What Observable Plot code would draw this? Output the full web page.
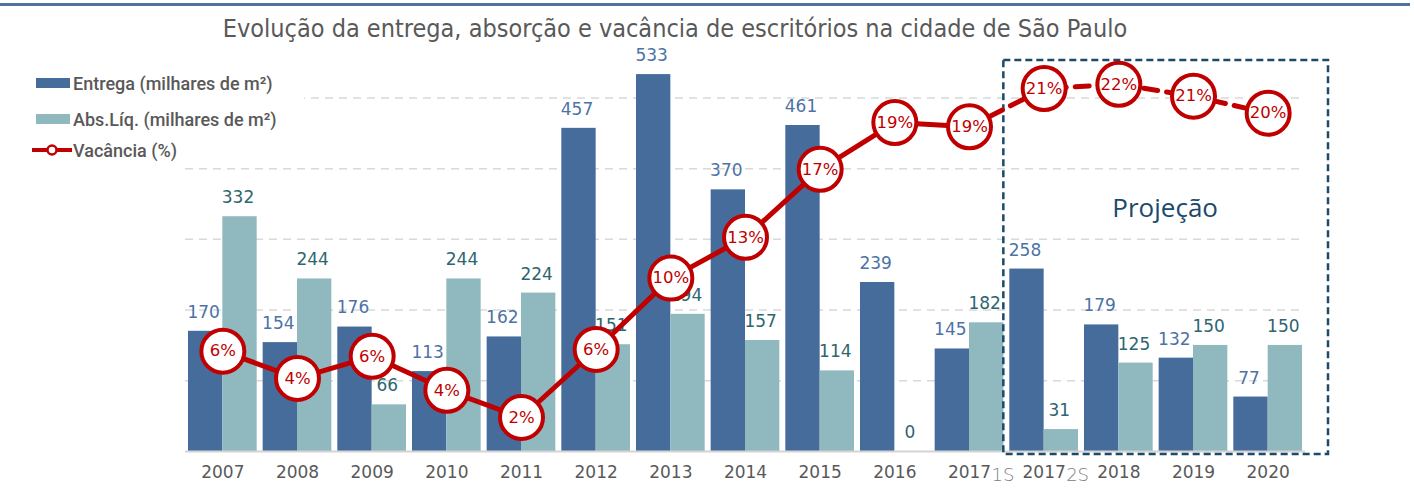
<!DOCTYPE html>
<html>
<head>
<meta charset="utf-8">
<script src="https://cdn.jsdelivr.net/npm/d3@7"></script>
<script src="https://cdn.jsdelivr.net/npm/@observablehq/plot@0.6"></script>
<style>
  html, body { margin: 0; padding: 0; background: #fff; }
  #wrap { position: relative; width: 1414px; height: 493px; overflow: hidden; }
  #wrap > svg { position: absolute; left: 0; top: 0; }
  #topline { position: absolute; left: 0; top: 3px; width: 1410px; height: 3px; background: #4f72a3; z-index: 3; }
  #title { position: absolute; left: 0; width: 1350px; top: 14px; text-align: center; font-family: "DejaVu Sans Condensed", "DejaVu Sans", sans-serif; font-stretch: condensed; font-size: 25px; color: #595959; z-index: 3; }
  #legend { position: absolute; left: 28px; top: 66px; width: 276px; height: 98px; background: #fff; z-index: 3; font-family: Roboto, sans-serif; font-weight: 500; font-size: 18px; color: #595959; }
  .item { position: absolute; left: 0; height: 22px; display: flex; align-items: center; white-space: nowrap; }
  .sw { width: 34px; height: 10px; margin-left: 8px; margin-right: 3px; }
</style>
</head>
<body>
<div id="wrap">
  <div id="topline"></div>
  <div id="title">Evolução da entrega, absorção e vacância de escritórios na cidade de São Paulo</div>
  <div id="legend"></div>
</div>
<script>
// ---- data ----
const categories = ["2007","2008","2009","2010","2011","2012","2013","2014","2015","2016","2017 1S","2017 2S","2018","2019","2020"];
const entrega = [170,154,176,113,162,457,533,370,461,239,145,258,179,132,77];
const absLiq  = [332,244,66,244,224,151,194,157,114,0,182,31,125,150,150];
const vacancia = [5.9,4.3,5.6,3.6,2.0,6.0,10.2,12.6,16.6,19.35,19.1,21.35,21.6,20.9,19.9];
const seriesNames = ["Entrega (milhares de m²)", "Abs.Líq. (milhares de m²)", "Vacância (%)"];
const gridValues = [100,200,300,400,500];
const projectionLabel = "Projeção";
const projectionStart = "2017 2S";

// ---- styles ----
const C_ENT = "#466c9c", C_ABS = "#8fb9be", C_RED = "#c00000";
const C_ENT_TXT = "#4d72a6", C_ABS_TXT = "#2e6570";
const HALF = 0.46;          // half of group width, in category steps
const VAC_K = 24.04;        // vacancy % -> bar-axis units

const rows = categories.map((c, i) => {
  const parts = c.split(" ");
  return {i, cat: c, base: parts[0], suffix: parts[1] || "", entrega: entrega[i], abs: absLiq[i], vac: vacancia[i]};
});
const pStart = categories.indexOf(projectionStart);
const last = categories.length - 1;

const chart = Plot.plot({
  width: 1414, height: 493,
  marginLeft: 185, marginRight: 109, marginTop: 55, marginBottom: 42,
  x: {type: "linear", domain: [-0.5, last + 0.5], axis: null},
  y: {domain: [0, 560], axis: null},
  style: {fontFamily: "DejaVu Sans, sans-serif", background: "transparent", overflow: "visible"},
  marks: [
    Plot.ruleY(gridValues, {stroke: "#d9d9d9", strokeWidth: 1.5, strokeDasharray: "8,6"}),
    Plot.rectY(rows, {x1: d => d.i - HALF, x2: d => d.i, y: "entrega", fill: C_ENT}),
    Plot.rectY(rows, {x1: d => d.i, x2: d => d.i + HALF, y: "abs", fill: C_ABS}),
    Plot.text(rows, {x: d => d.i - HALF / 2, y: "entrega", dy: -19, dx: -2, text: d => String(d.entrega), fill: C_ENT_TXT, fontSize: 17}),
    Plot.text(rows, {x: d => d.i + HALF / 2, y: "abs", dy: -19, dx: -2, text: d => String(d.abs), fill: C_ABS_TXT, fontSize: 17}),
    Plot.ruleY([0], {stroke: "#d4d4d4", strokeWidth: 2}),
    Plot.text(rows, {x: "i", y: 0, dy: 21, text: "base", fill: "#595959", fontSize: 17}),
    Plot.text(rows.filter(d => d.suffix), {x: "i", y: 0, dy: 24, dx: 22, textAnchor: "start", text: "suffix", fill: "#808080", fontSize: 18, fontWeight: 200}),
    Plot.rect([{x1: pStart - 0.5, x2: last + 0.5, y1: 0, y2: 560}], {x1: "x1", x2: "x2", y1: "y1", y2: "y2", fill: "none", stroke: "#1c4a6a", strokeWidth: 2.5, strokeDasharray: "7,4", insetLeft: -3, insetRight: -23, insetTop: 5, insetBottom: -3}),
    Plot.text([projectionLabel], {x: (pStart - 0.5 + last + 0.5) / 2, y: 344, dx: 9, text: d => d, fill: "#1b4a6b", fontSize: 26, fontWeight: 500, fontFamily: "Open Sans, sans-serif"}),
    Plot.line(rows.slice(0, pStart), {x: "i", y: d => d.vac * VAC_K, stroke: C_RED, strokeWidth: 5}),
    Plot.line(rows.slice(pStart - 1), {x: "i", y: d => d.vac * VAC_K, stroke: C_RED, strokeWidth: 5, strokeDasharray: "14,9"}),
    Plot.dot(rows, {x: "i", y: d => d.vac * VAC_K, r: 21.5, fill: "white", stroke: C_RED, strokeWidth: 4}),
    Plot.text(rows, {x: "i", y: d => d.vac * VAC_K, text: d => Math.round(d.vac) + "%", fill: C_RED, fontSize: 16.5})
  ]
});
document.getElementById("wrap").appendChild(chart);

// ---- legend ----
const legend = document.getElementById("legend");
const swatches = [C_ENT, C_ABS, null];
const tops = [6, 42, 73];
seriesNames.forEach((name, k) => {
  const it = document.createElement("div");
  it.className = "item";
  it.style.top = tops[k] + "px";
  if (swatches[k]) {
    const sw = document.createElement("div");
    sw.className = "sw";
    sw.style.background = swatches[k];
    it.appendChild(sw);
  } else {
    const s = d3.create("svg").attr("width", 45).attr("height", 14).style("display", "block");
    s.append("line").attr("x1", 4).attr("x2", 44).attr("y1", 7).attr("y2", 7).attr("stroke", C_RED).attr("stroke-width", 4);
    s.append("circle").attr("cx", 24).attr("cy", 7).attr("r", 4.5).attr("fill", "white").attr("stroke", C_RED).attr("stroke-width", 2.5);
    it.appendChild(s.node());
  }
  const t = document.createElement("span");
  t.textContent = name;
  it.appendChild(t);
  legend.appendChild(it);
});
</script>
</body>
</html>
